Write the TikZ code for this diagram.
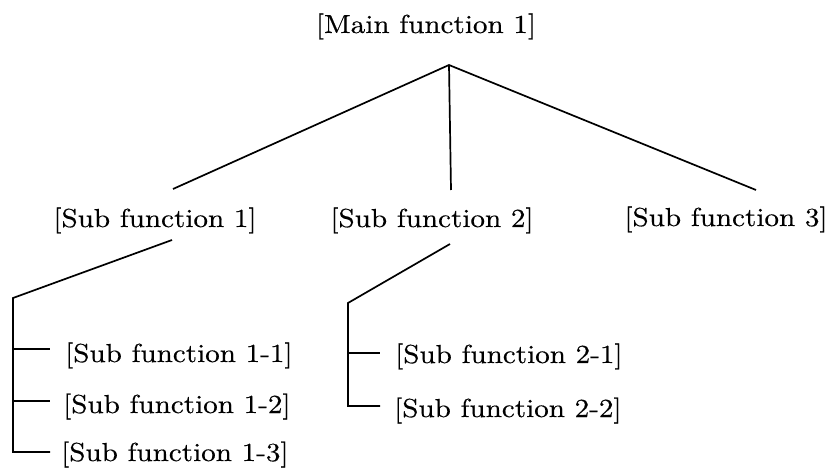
\documentclass[tikz,border=0pt]{standalone}
\usepackage{fontspec}
\setmainfont{lmroman10-regular.otf}[FakeStretch=1.12,FakeBold=0.4]
\begin{document}
\begin{tikzpicture}[x=1bp,y=-1bp,
  label/.style={inner sep=0pt,font=\fontsize{26bp}{30bp}\selectfont},
  branch/.style={line width=1.7bp,line join=miter}]
\useasboundingbox (0,0) rectangle (828,468);

% labels
\node[label,anchor=base] (main) at (426,33) {[Main function 1]};
\node[label,anchor=base] (s1) at (155,227) {[Sub function 1]};
\node[label,anchor=base] (s2) at (432,227) {[Sub function 2]};
\node[label,anchor=base] (s3) at (726,226) {[Sub function 3]};
\node[label,anchor=base west] (s11) at (65,362) {[Sub function 1-1]};
\node[label,anchor=base west] (s12) at (63,413) {[Sub function 1-2]};
\node[label,anchor=base west] (s13) at (61,461) {[Sub function 1-3]};
\node[label,anchor=base west] (s21) at (395,363) {[Sub function 2-1]};
\node[label,anchor=base west] (s22) at (394,417) {[Sub function 2-2]};

% junction points
\coordinate (apex) at (449,65);
\coordinate (m1) at (173,189);
\coordinate (m2) at (451,190);
\coordinate (m3) at (756,190);

\coordinate (b1) at (172,240);
\coordinate (k1) at (13,298);
\coordinate (t11) at (50,349);
\coordinate (t12) at (50,401);
\coordinate (t13) at (50,452);

\coordinate (b2) at (450,244);
\coordinate (k2) at (348,303);
\coordinate (t21) at (380,353);
\coordinate (t22) at (380,406);

% first level
\draw[branch] (m1) -- (apex) -- (m3);
\draw[branch] (apex) -- (m2);

% second level, sub function 1
\draw[branch] (b1) -- (k1) |- (t13);
\draw[branch] (k1 |- t11) -- (t11);
\draw[branch] (k1 |- t12) -- (t12);

% second level, sub function 2
\draw[branch] (b2) -- (k2) |- (t22);
\draw[branch] (k2 |- t21) -- (t21);
\end{tikzpicture}
\end{document}
